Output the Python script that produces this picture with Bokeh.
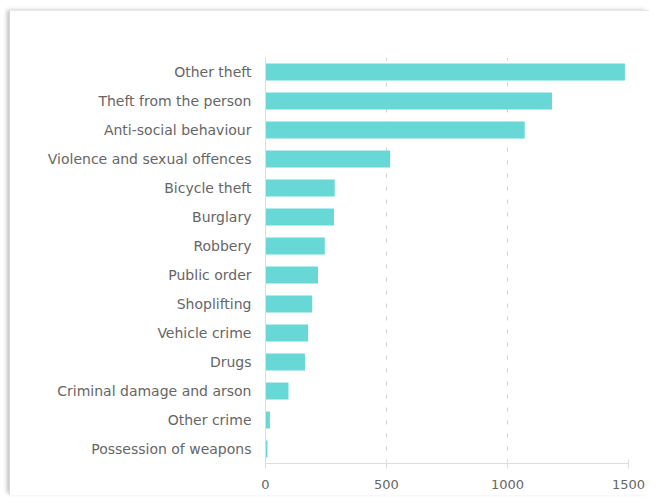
from bokeh.plotting import figure
from bokeh.models import Range1d, FactorRange, FixedTicker
from bokeh.embed import file_html
from bokeh.resources import INLINE

categories = [
    "Other theft", "Theft from the person", "Anti-social behaviour",
    "Violence and sexual offences", "Bicycle theft", "Burglary", "Robbery",
    "Public order", "Shoplifting", "Vehicle crime", "Drugs",
    "Criminal damage and arson", "Other crime", "Possession of weapons",
]
counts = [1485, 1184, 1071, 515, 286, 283, 245, 217, 193, 176, 163, 95, 18, 8]
x_ticks = [0, 500, 1000, 1500]

FONT = "DejaVu Sans"
TXT = "#666666"

p = figure(
    width=640, height=485,
    y_range=FactorRange(factors=list(reversed(categories))),
    x_range=Range1d(0, 1500),
    output_backend="svg", toolbar_location=None,
    min_border_left=255, min_border_right=22,
    min_border_top=46, min_border_bottom=33,
    margin=(10, 0, 0, 9),
)
p.styles = {
    "border-left": "1px solid #d8d8d8",
    "border-top": "1px solid #e8e8e8",
    "box-shadow": "-3px -1px 4px -1px rgba(0,0,0,0.25)",
}
p.outline_line_color = None

p.hbar(y=categories, right=counts, left=0, height=0.58,
       fill_color="#68d8d6", line_color=None)

p.xaxis.ticker = FixedTicker(ticks=x_ticks)
p.xaxis.axis_line_color = "#dddddd"
p.xaxis.major_tick_line_color = "#dddddd"
p.xaxis.major_tick_in = 4
p.xaxis.major_tick_out = 5
p.xaxis.minor_tick_line_color = None
p.xaxis.major_label_standoff = 11
p.xaxis.major_label_text_font = FONT
p.xaxis.major_label_text_font_size = "13px"
p.xaxis.major_label_text_color = TXT

p.yaxis.axis_line_color = "#dddddd"
p.yaxis.major_tick_line_color = None
p.yaxis.minor_tick_line_color = None
p.yaxis.major_tick_out = 0
p.yaxis.major_tick_in = 0
p.yaxis.major_label_standoff = 14
p.yaxis.major_label_text_font = FONT
p.yaxis.major_label_text_font_size = "14px"
p.yaxis.major_label_text_color = TXT

p.xgrid.grid_line_color = "#d0d0d0"
p.xgrid.grid_line_dash = "4 9"
p.ygrid.grid_line_color = None

open("out.html", "w").write(file_html(p, INLINE))
